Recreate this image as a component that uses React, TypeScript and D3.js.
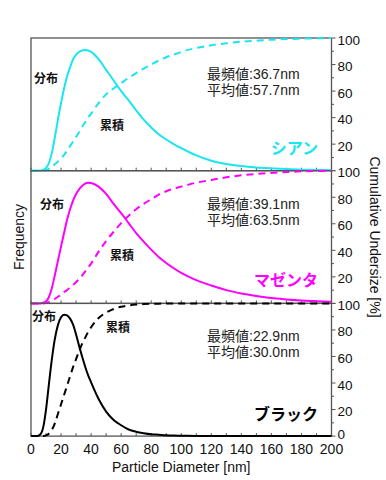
import React from 'react';
import * as d3 from 'd3';

const WIDTH = 386;
const HEIGHT = 480;

// particle diameter grid [nm]
const diameters = [0, 4, 6, 8, 10, 12, 14, 16, 18, 20, 22, 24, 26, 28, 30, 32, 34, 36, 38, 40,
    45, 50, 55, 60, 65, 70, 75, 80, 85, 90, 95, 100, 110, 120, 130, 140, 150, 160, 170, 180, 190, 200];

const cyanFreq = [0, 0, 0, 0.5, 2, 6, 14, 26, 39, 51, 62, 71, 78, 84, 87.5, 89.5, 90.6, 91, 90.6, 89.5,
    84, 76, 68, 60, 53, 45.5, 38.5, 32.5, 27.5, 23.5, 20, 17, 11.5, 7.5, 5, 3.5, 2.5, 1.8, 1.2, 0.8, 0.5, 0.3];
const cyanCum = [0, 0, 0, 0, 0.3, 1.5, 3, 5, 7, 9.5, 12, 15, 18.5, 22, 25.5, 29, 33, 36.5, 40, 43,
    51, 57.5, 62, 66, 70, 73.5, 77, 80, 83, 85.5, 87.5, 89.5, 92.5, 94.5, 96, 97.2, 98, 98.7, 99.2, 99.5, 99.8, 100];

const magentaFreq = [0, 0, 0, 0.5, 1.5, 5, 12, 22, 32.5, 43, 53, 63, 71, 77.5, 82.5, 86, 88.5, 90.3, 91, 90.8,
    88, 82.5, 75, 68, 60.5, 53, 46.5, 40.5, 35, 30.5, 26.5, 23, 17.5, 13.5, 10, 7.5, 5.6, 4, 3, 2.2, 1.7, 1.3];
const magentaCum = [0, 0, 0, 0, 0.3, 1, 2, 3.5, 5, 6.5, 8.5, 10, 12, 14, 16, 18.5, 21, 24, 27, 30,
    39, 47, 54, 60.5, 66, 71, 75, 78.5, 82, 84.5, 86.5, 88, 91, 93, 95, 96.5, 97.5, 98.3, 99, 99.5, 99.8, 100];

const blackFreq = [0, 0, 1, 6, 20, 40, 59, 74, 84, 89.5, 91.5, 91, 88.5, 84, 76.5, 68, 60, 52.5, 46, 40.5,
    28, 18.5, 12.2, 8.2, 5, 3.3, 2.2, 1.4, 1, 0.6, 0.4, 0.3, 0.15, 0.1, 0, 0, 0, 0, 0, 0, 0, 0];
const blackCum = [0, 0, 0, 0, 0.5, 2, 5, 10, 17, 24, 31, 38, 45, 52, 58, 64, 69.5, 74, 78.5, 82,
    89, 93, 95.8, 97.5, 98.5, 99.1, 99.5, 99.7, 99.8, 99.9, 100, 100, 100, 100, 100, 100, 100, 100, 100, 100, 100, 100];

const panelNames = ['シアン', 'マゼンタ', 'ブラック'];
const panelColors = ['#19e6ee', '#ff00ff', '#000000'];
const modeValues = ['36.7', '39.1', '22.9'];
const meanValues = ['57.7', '63.5', '30.0'];
const xTicks = [0, 20, 40, 60, 80, 100, 120, 140, 160, 180, 200];
const yTicks = [0, 20, 40, 60, 80, 100];

const FONT = '"Liberation Sans", Arial, "Noto Sans CJK JP", sans-serif';
const JP_FONT = '"Noto Sans CJK JP", sans-serif';

const LEFT = 31;
const RIGHT = 331.5;
const TOP = 38;
const PANEL_H = 132.7;

// label offsets relative to each panel top
const labelPos = [
    {bunpu: [34, 45], ruiseki: [100, 91.5], stats: 40.5, name: 115.5},
    {bunpu: [40, 38], ruiseki: [110, 89], stats: 38, name: 114.8},
    {bunpu: [32, 18], ruiseki: [106, 29], stats: 37.5, name: 116.5},
];

const App = () => {
    const x = d3.scaleLinear().domain([0, 200]).range([LEFT, RIGHT]);
    const series = [
        {freq: cyanFreq, cum: cyanCum},
        {freq: magentaFreq, cum: magentaCum},
        {freq: blackFreq, cum: blackCum},
    ];
    const minorX = d3.range(0, 201, 10);
    const minorY = d3.range(0, 101, 10);
    const bottom = TOP + PANEL_H * 3;

    return (
        <svg width={WIDTH} height={HEIGHT} style={{position: 'absolute', left: 0, top: 0, background: 'white'}}
             fontFamily={FONT}>
            {series.map((s, i) => {
                const top = TOP + PANEL_H * i;
                const y = d3.scaleLinear().domain([0, 100]).range([top + PANEL_H, top]);
                const line = d3.line<number>()
                    .x((_, j) => x(diameters[j]))
                    .y(d => y(d))
                    .curve(d3.curveMonotoneX);
                const pos = labelPos[i];
                const color = panelColors[i];
                return (
                    <g key={i}>
                        <rect x={LEFT} y={top} width={RIGHT - LEFT} height={PANEL_H}
                              fill="none" stroke="#555" strokeWidth={1.3}/>
                        {minorX.map(t => (
                            <line key={t} x1={x(t)} x2={x(t)} y1={top + PANEL_H} y2={top + PANEL_H - 3}
                                  stroke="#555" strokeWidth={1}/>
                        ))}
                        {minorY.map(t => (
                            <line key={t} x1={RIGHT} x2={RIGHT + (t % 20 === 0 ? 4 : 2.5)} y1={y(t)} y2={y(t)}
                                  stroke="#555" strokeWidth={1}/>
                        ))}
                        {yTicks.filter(t => t > 0 || i === 2).map(t => (
                            <text key={t} x={RIGHT + 6} y={y(t) + (t === 0 ? 2.5 : 6.5)} fontSize={13.5}
                                  fill="#111">{t}</text>
                        ))}
                        <path d={line(s.freq) || ''} fill="none" stroke={color} strokeWidth={2}/>
                        <path d={line(s.cum) || ''} fill="none" stroke={color} strokeWidth={2}
                              strokeDasharray="7,5"/>
                        <text x={pos.bunpu[0]} y={top + pos.bunpu[1]} fontFamily={JP_FONT} fontSize={12}
                              fontWeight="bold" fill="#111">分布</text>
                        <text x={pos.ruiseki[0]} y={top + pos.ruiseki[1]} fontFamily={JP_FONT} fontSize={12}
                              fontWeight="bold" fill="#111">累積</text>
                        <text x={207} y={top + pos.stats} fontSize={14} fill="#222">
                            {`最頻値:${modeValues[i]}nm`}
                        </text>
                        <text x={207} y={top + pos.stats + 16.5} fontSize={14} fill="#222">
                            {`平均値:${meanValues[i]}nm`}
                        </text>
                        <text x={318} y={top + pos.name} textAnchor="end" fontFamily={JP_FONT} fontSize={16}
                              fontWeight="bold" fill={color}>{panelNames[i]}</text>
                    </g>
                );
            })}
            {xTicks.map(t => (
                <text key={t} x={x(t)} y={bottom + 17.5} textAnchor="middle" fontSize={14} fill="#111">{t}</text>
            ))}
            <text x={(LEFT + RIGHT) / 2} y={472} textAnchor="middle" fontSize={14} fill="#111">
                Particle Diameter [nm]
            </text>
            <text transform={`translate(24,237) rotate(-90)`} textAnchor="middle" fontSize={14} fill="#111">
                Frequency
            </text>
            <text transform={`translate(370,237) rotate(90)`} textAnchor="middle" fontSize={14} fill="#111">
                Cumulative Undersize [%]
            </text>
        </svg>
    );
};

export default App;
